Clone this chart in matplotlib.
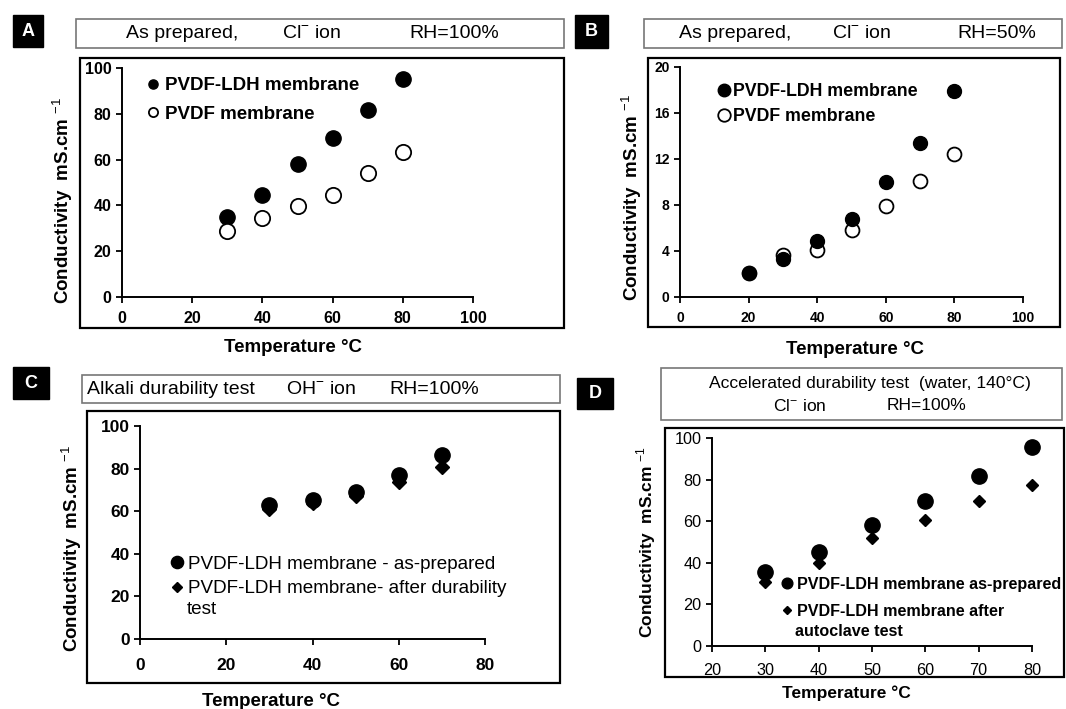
import matplotlib
matplotlib.use("Agg")
import matplotlib.pyplot as plt
from matplotlib.patches import Rectangle

plt.rcParams['font.family'] = ['Liberation Sans', 'DejaVu Sans']
plt.rcParams['mathtext.fontset'] = 'custom'
plt.rcParams['mathtext.rm'] = 'Liberation Sans'
plt.rcParams['mathtext.bf'] = 'Liberation Sans:bold'

W, H = 1066, 709

# ---- data ----
temp_a = [30, 40, 50, 60, 70, 80]
ldh_a = [35.0, 44.5, 58.1, 69.3, 81.6, 95.2]
pvdf_a = [28.8, 34.7, 39.7, 44.5, 54.2, 63.5]

temp_b = [20, 30, 40, 50, 60, 70, 80]
ldh_b = [2.09, 3.33, 4.84, 6.81, 10.0, 13.42, 17.9]
pvdf_b = [2.05, 3.62, 4.12, 5.86, 7.91, 10.1, 12.46]

temp_c = [30, 40, 50, 60, 70]
prep_c = [63.0, 65.3, 68.9, 76.9, 86.6]
after_c = [61.1, 63.75, 67.2, 73.9, 80.8]

temp_d = [30, 40, 50, 60, 70, 80]
prep_d = [35.7, 45.0, 58.4, 69.5, 81.8, 95.5]
after_d = [30.9, 39.7, 51.8, 60.5, 69.5, 77.2]

fig = plt.figure(figsize=(W / 100, H / 100), dpi=100)


def fx(x):
    return x / W


def fy(y):
    return 1 - y / H


def box(x0, y0, x1, y1, **kw):
    r = Rectangle((fx(x0), fy(y1)), fx(x1) - fx(x0), fy(y0) - fy(y1),
                  transform=fig.transFigure, **kw)
    fig.add_artist(r)


def label_box(x0, y0, x1, y1, letter):
    box(x0, y0, x1, y1, facecolor='black', edgecolor='black')
    fig.text(fx((x0 + x1) / 2), fy((y0 + y1) / 2), letter, color='white',
             fontsize=13, fontweight='bold', ha='center', va='center')


def ftext(x, y, s, **kw):
    kw.setdefault('fontsize', 14)
    kw.setdefault('ha', 'center')
    fig.text(fx(x), fy(y), s, va='center', **kw)


def make_axes(x0, y0, x1, y1):
    ax = fig.add_axes([fx(x0), fy(y1), fx(x1) - fx(x0), fy(y0) - fy(y1)])
    ax.patch.set_alpha(0)
    for s in ['top', 'right']:
        ax.spines[s].set_visible(False)
    for s in ['left', 'bottom']:
        ax.spines[s].set_linewidth(1.4)
    ax.tick_params(direction='out', length=4, width=1.3)
    return ax


def style_ticks(ax, size, weight='bold'):
    for t in ax.get_xticklabels() + ax.get_yticklabels():
        t.set_fontweight(weight)
        t.set_fontsize(size)


ylab = 'Conductivity  mS.cm $^{-1}$'
xlab = 'Temperature \u00b0C'

# ============ Panel A ============
label_box(13, 15, 43, 47, 'A')
box(76, 19, 564, 48, facecolor='white', edgecolor='#777777', lw=1.2)
box(80, 58, 564, 328, facecolor='none', edgecolor='black', lw=1.6)
ftext(182, 33, 'As prepared,')
ftext(312, 33, 'Cl$^{-}$ ion')
ftext(454, 33, 'RH=100%')

ax = make_axes(122, 68, 473, 297)
ax.plot(temp_a, ldh_a, 'o', color='black', ms=11, clip_on=False,
        label='PVDF-LDH membrane')
ax.plot(temp_a, pvdf_a, 'o', mfc='white', mec='black', mew=1.3, ms=11,
        clip_on=False, label='PVDF membrane')
ax.set_xlim(0, 100)
ax.set_ylim(0, 100)
ax.set_xticks(range(0, 101, 20))
ax.set_yticks(range(0, 101, 20))
style_ticks(ax, 11.5)
ax.tick_params(axis='x', pad=6)
ax.legend(loc='upper left', bbox_to_anchor=(fx(138), fy(68)),
          bbox_transform=fig.transFigure, frameon=False, markerscale=0.6,
          handlelength=0.6, handletextpad=0.35, labelspacing=0.6,
          borderpad=0, prop={'weight': 'bold', 'size': 13.5})
ftext(293, 348, xlab, fontsize=13.5, fontweight='bold')
ftext(63, 200, ylab, fontsize=13.5, fontweight='bold', rotation=90)

# ============ Panel B ============
label_box(575, 15, 608, 48, 'B')
box(644, 19, 1062, 48, facecolor='white', edgecolor='#777777', lw=1.2)
box(648, 58, 1060, 327, facecolor='none', edgecolor='black', lw=1.6)
ftext(735, 33, 'As prepared,')
ftext(862, 33, 'Cl$^{-}$ ion')
ftext(997, 33, 'RH=50%')

ax = make_axes(680, 67, 1023, 297)
ax.plot(temp_b, pvdf_b, 'o', mfc='white', mec='black', mew=1.3, ms=10,
        clip_on=False, label='PVDF membrane', zorder=2)
ax.plot(temp_b, ldh_b, 'o', color='black', ms=10, clip_on=False,
        label='PVDF-LDH membrane', zorder=3)
ax.set_xlim(0, 100)
ax.set_ylim(0, 20)
ax.set_xticks(range(0, 101, 20))
ax.set_yticks(range(0, 21, 4))
style_ticks(ax, 10)
ax.tick_params(axis='x', pad=6)
h, l = ax.get_legend_handles_labels()
ax.legend(h[::-1], l[::-1], loc='upper left', bbox_to_anchor=(fx(710), fy(74)),
          bbox_transform=fig.transFigure, frameon=False, markerscale=0.9,
          handlelength=0.6, handletextpad=0.2, labelspacing=0.45,
          borderpad=0, prop={'weight': 'bold', 'size': 12.8})
ftext(855, 350, xlab, fontsize=13.5, fontweight='bold')
ftext(632, 197, ylab, fontsize=13.5, fontweight='bold', rotation=90)

# ============ Panel C ============
label_box(13, 367, 49, 399, 'C')
box(82, 375, 560, 403, facecolor='white', edgecolor='#777777', lw=1.2)
box(87, 411, 560, 683, facecolor='none', edgecolor='black', lw=1.6)
ftext(171, 389, 'Alkali durability test')
ftext(321, 389, 'OH$^{-}$ ion')
ftext(434, 389, 'RH=100%')

ax = make_axes(140, 426, 485, 639)
ax.plot(temp_c, prep_c, 'o', color='black', ms=11, clip_on=False,
        label='PVDF-LDH membrane - as-prepared')
ax.plot(temp_c, after_c, 'D', color='black', ms=7, clip_on=False,
        label='PVDF-LDH membrane- after durability')
ax.set_xlim(0, 80)
ax.set_ylim(0, 100)
ax.set_xticks(range(0, 81, 20))
ax.set_yticks(range(0, 101, 20))
style_ticks(ax, 12.5)
ax.tick_params(axis='x', pad=10)
ax.legend(loc='upper left', bbox_to_anchor=(fx(162), fy(546)),
          bbox_transform=fig.transFigure, frameon=False, markerscale=0.8,
          handlelength=0.6, handletextpad=0.3, labelspacing=0.4,
          borderpad=0, prop={'size': 13.6})
ftext(187, 610, 'test', fontsize=13.6, ha='left')
ftext(271, 702, xlab, fontsize=13.5, fontweight='bold')
ftext(72, 548, ylab, fontsize=13.5, fontweight='bold', rotation=90)

# ============ Panel D ============
label_box(577, 378, 613, 409, 'D')
box(661, 368, 1062, 420, facecolor='white', edgecolor='#777777', lw=1.2)
box(665, 428, 1064, 677, facecolor='none', edgecolor='black', lw=1.6)
ftext(870, 383, 'Accelerated durability test  (water, 140\u00b0C)', fontsize=12.6)
ftext(800, 406, 'Cl$^{-}$ ion', fontsize=12.6)
ftext(926, 406, 'RH=100%', fontsize=12.6)

ax = make_axes(712, 438, 1032, 646)
ax.plot(temp_d, prep_d, 'o', color='black', ms=11, clip_on=False,
        label='PVDF-LDH membrane as-prepared')
ax.plot(temp_d, after_d, 'D', color='black', ms=6.5, clip_on=False,
        label='PVDF-LDH membrane after')
ax.set_xlim(20, 80)
ax.set_ylim(0, 100)
ax.set_xticks(range(20, 81, 10))
ax.set_yticks(range(0, 101, 20))
style_ticks(ax, 11.7, weight='normal')
ax.tick_params(axis='x', pad=8)
ax.legend(loc='upper left', bbox_to_anchor=(fx(774), fy(569)),
          bbox_transform=fig.transFigure, frameon=False, markerscale=0.7,
          handlelength=0.6, handletextpad=0.3, labelspacing=0.75,
          borderpad=0, prop={'weight': 'bold', 'size': 11.6})
ftext(795, 631, 'autoclave test', fontsize=11.6, fontweight='bold', ha='left')
ftext(846, 693, xlab, fontsize=12.5, fontweight='bold')
ftext(646, 542, ylab, fontsize=12.5, fontweight='bold', rotation=90)

fig.savefig('out.png', dpi=100)
